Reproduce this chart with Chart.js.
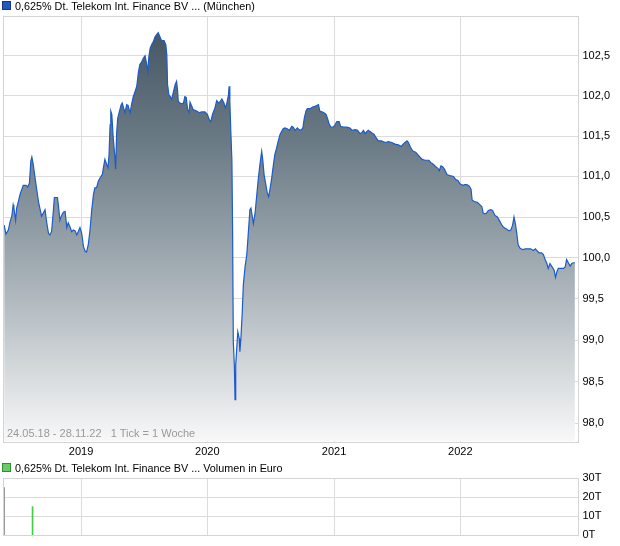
<!DOCTYPE html>
<html>
<head>
<meta charset="utf-8">
<script src="https://cdn.jsdelivr.net/npm/chart.js@4.4.0/dist/chart.umd.min.js"></script>
<style>
  body { margin: 0; background: #fff; font-family: "Liberation Sans", Arial, sans-serif; }
  #wrap { position: relative; width: 620px; height: 546px; overflow: hidden; }
  canvas { position: absolute; left: 0; }
  .legend { position: absolute; left: 2px; font-size: 10.8px; color: #000; line-height: 13px; white-space: nowrap; }
  .legend span.box { display: inline-block; width: 7px; height: 7px; margin-right: 4px; }
  .info { position: absolute; left: 7px; top: 427px; font-size: 11px; color: #9a9a9a; white-space: pre; }
</style>
</head>
<body>
<div id="wrap">
  <canvas id="priceChart" width="620" height="462" style="top:0"></canvas>
  <canvas id="volChart" width="620" height="86" style="top:460px"></canvas>
  <div class="legend" style="top:0px"><span class="box" style="background:#2257c4;border:1px solid #133a86"></span>0,625% Dt. Telekom Int. Finance BV ... (München)</div>
  <div class="legend" style="top:462px"><span class="box" style="background:#66cc66;border:1px solid #2f8f2f"></span>0,625% Dt. Telekom Int. Finance BV ... Volumen in Euro</div>
  <div class="info">24.05.18 - 28.11.22   1 Tick = 1 Woche</div>
</div>
<script>
// days since 24.05.18
const days = [
  0,5,12,17,22,26,28,33,36,41,
  46,51,55,63,68,73,77,80,84,88,
  92,99,104,108,113,118,123,128,132,137,
  142,145,154,158,161,166,171,176,181,185,
  190,195,200,205,210,214,219,224,229,234,
  238,243,248,253,258,262,267,272,277,284,
  286,291,296,300,303,306,308,311,315,320,
  322,325,328,332,338,341,345,349,354,358,
  361,364,368,373,378,383,388,392,397,402,
  407,412,415,418,422,426,431,436,441,445,
  450,455,462,467,470,472,476,480,484,489,
  494,498,501,503,508,513,518,522,526,530,
  534,537,542,546,556,564,571,580,587,593,
  597,602,609,614,620,626,629,635,639,643,
  648,650,652,655,658,660,662,665,667,669,
  675,679,681,684,688,691,696,701,705,710,
  713,720,725,730,734,739,744,747,751,756,
  760,764,768,773,778,782,787,792,797,802,
  806,811,818,824,831,835,841,847,852,857,
  863,867,872,876,884,891,898,903,908,912,
  918,924,930,934,939,944,951,956,961,968,
  972,980,990,999,1006,1014,1021,1028,1033,1038,
  1043,1047,1052,1062,1069,1076,1081,1089,1095,1102,
  1110,1120,1129,1139,1147,1153,1158,1164,1168,1173,
  1178,1182,1189,1195,1201,1208,1216,1227,1233,1240,
  1247,1253,1257,1262,1267,1272,1280,1288,1298,1305,
  1311,1317,1325,1331,1337,1344,1349,1352,1358,1367,
  1375,1380,1384,1389,1394,1399,1406,1411,1418,1425,
  1433,1438,1444,1452,1459,1464,1469,1473,1477,1481,
  1485,1490,1498,1506,1514,1521,1529,1535,1541,1546,
  1553,1558,1563,1568,1572,1577,1583,1589,1593,1597,
  1601,1608,1616,1621,1625,1630,1635,1640,1645,1649
];

const prices = [
  100.40,100.29,100.34,100.44,100.51,100.65,100.61,100.46,100.61,100.69,
  100.78,100.84,100.89,100.89,100.87,100.92,101.19,101.24,101.15,101.02,
  100.90,100.69,100.59,100.51,100.55,100.59,100.43,100.30,100.28,100.32,
  100.57,100.74,100.74,100.59,100.46,100.52,100.56,100.57,100.37,100.43,
  100.38,100.32,100.34,100.33,100.28,100.32,100.37,100.30,100.14,100.08,
  100.07,100.16,100.34,100.59,100.78,100.86,100.86,100.94,100.98,101.03,
  101.09,101.21,101.15,101.11,101.27,101.64,101.81,101.77,101.48,101.23,
  101.09,101.54,101.72,101.79,101.89,101.91,101.85,101.79,101.89,101.88,
  101.83,101.79,101.89,101.99,102.05,102.12,102.30,102.39,102.42,102.47,
  102.50,102.39,102.30,102.49,102.60,102.64,102.68,102.74,102.77,102.79,
  102.74,102.69,102.69,102.64,102.51,102.14,102.01,101.99,101.96,102.05,
  102.14,102.18,102.07,101.93,101.91,101.90,101.91,101.99,101.98,101.83,
  101.79,101.92,101.87,101.83,101.81,101.79,101.80,101.80,101.77,101.70,
  101.68,101.77,101.85,101.94,101.91,101.94,101.96,101.91,101.85,101.90,
  102.01,102.12,101.93,101.54,101.19,100.32,98.98,98.70,98.28,98.70,
  99.10,99.02,98.86,99.02,99.35,99.67,99.89,100.04,100.28,100.59,
  100.61,100.42,100.55,100.78,100.96,101.15,101.31,101.21,101.02,100.90,
  100.80,100.75,100.84,100.98,101.15,101.27,101.35,101.44,101.52,101.56,
  101.59,101.60,101.59,101.57,101.62,101.61,101.57,101.60,101.58,101.57,
  101.60,101.72,101.81,101.84,101.84,101.86,101.87,101.88,101.89,101.81,
  101.80,101.79,101.77,101.72,101.65,101.61,101.61,101.64,101.68,101.68,
  101.62,101.61,101.61,101.60,101.57,101.58,101.57,101.53,101.54,101.57,
  101.53,101.55,101.57,101.54,101.52,101.47,101.44,101.44,101.43,101.42,
  101.43,101.42,101.40,101.39,101.37,101.40,101.42,101.44,101.42,101.37,
  101.33,101.31,101.30,101.27,101.24,101.21,101.20,101.20,101.17,101.15,
  101.12,101.10,101.07,101.13,101.12,101.09,101.02,101.01,101.00,100.96,
  100.95,100.91,100.89,100.90,100.90,100.88,100.84,100.71,100.69,100.68,
  100.65,100.63,100.55,100.54,100.55,100.58,100.59,100.58,100.52,100.50,
  100.44,100.40,100.37,100.35,100.33,100.34,100.40,100.50,100.42,100.30,
  100.16,100.12,100.10,100.11,100.11,100.11,100.09,100.11,100.08,100.06,
  100.06,100.04,99.98,99.93,99.87,99.93,99.89,99.85,99.76,99.83,
  99.87,99.87,99.87,99.89,99.98,99.94,99.90,99.93,99.94,99.94
];

// year starts as days since 24.05.18
const yearDays = [222, 587, 953, 1318];
const yearLabels = ["2019", "2020", "2021", "2022"];
const priceTicks = [98.0, 98.5, 99.0, 99.5, 100.0, 100.5, 101.0, 101.5, 102.0, 102.5];

// volume (thousand euro)
const volDays = [0, 82];
const volValues = [25, 15];
const volColors = ["#9a9a9a", "#44cc44"];
const volTicks = [0, 10, 20, 30];

const DAY_MIN = -3.4;
const DAY_MAX = 1659.4;
const GRID = "#dcdcdc";

const frame = {
  id: "frame",
  afterDraw(chart) {
    const { ctx, chartArea: a } = chart;
    ctx.save();
    ctx.strokeStyle = "#d4d4d4";
    ctx.lineWidth = 1;
    ctx.strokeRect(Math.round(a.left) + 0.5, Math.round(a.top) + 0.5, Math.round(a.right - a.left) - 1, Math.round(a.bottom - a.top));
    ctx.restore();
  },
};

Chart.defaults.font.family = "'Liberation Sans', Arial, sans-serif";
Chart.defaults.font.size = 11;
Chart.defaults.color = "#000";
Chart.defaults.animation = false;

const yearAxis = (showLabels) => ({
  type: "linear",
  min: DAY_MIN,
  max: DAY_MAX,
  offset: false,
  afterBuildTicks: (s) => { s.ticks = yearDays.map((v) => ({ value: v })); },
  ticks: {
    display: showLabels,
    autoSkip: false,
    maxRotation: 0,
    padding: 4,
    callback: (v, i) => yearLabels[i],
  },
  grid: { color: GRID, drawTicks: false, offset: false },
  border: { display: false },
  afterFit: (s) => { s.height = showLabels ? 20.5 : 0; },
});

new Chart(document.getElementById("priceChart"), {
  type: "line",
  data: {
    datasets: [
      {
        data: days.map((d, i) => ({ x: d, y: prices[i] })),
        borderColor: "#1d5bc8",
        borderWidth: 1.2,
        pointRadius: 0,
        tension: 0,
        fill: "start",
        backgroundColor: (c) => {
          const a = c.chart.chartArea;
          if (!a) return "#999";
          const g = c.chart.ctx.createLinearGradient(0, a.top, 0, a.bottom);
          g.addColorStop(0, "#415360");
          g.addColorStop(0.3, "#6b7b86");
          g.addColorStop(0.6, "#a3adb4");
          g.addColorStop(1, "#f8f8f8");
          return g;
        },
      },
    ],
  },
  options: {
    responsive: false,
    layout: { padding: { top: 16, left: 3, right: 0, bottom: 0 } },
    plugins: { legend: { display: false }, tooltip: { enabled: false } },
    scales: {
      x: yearAxis(true),
      y: {
        type: "logarithmic",
        position: "right",
        min: 97.78,
        max: 103.0,
        afterBuildTicks: (s) => { s.ticks = priceTicks.map((v) => ({ value: v })); },
        ticks: {
          padding: 4,
          callback: (v) => Number(v).toFixed(1).replace(".", ","),
        },
        grid: { color: GRID, drawTicks: false },
        border: { display: false },
        afterFit: (s) => { s.width = 41.5; },
      },
    },
  },
  plugins: [frame],
});

new Chart(document.getElementById("volChart"), {
  type: "bar",
  data: {
    datasets: [
      {
        data: volDays.map((d, i) => ({ x: d, y: volValues[i] })),
        backgroundColor: volColors,
        barThickness: 1,
      },
    ],
  },
  options: {
    responsive: false,
    layout: { padding: { top: 18, left: 3, right: 0, bottom: 10 } },
    plugins: { legend: { display: false }, tooltip: { enabled: false } },
    scales: {
      x: yearAxis(false),
      y: {
        position: "right",
        min: 0,
        max: 30,
        afterBuildTicks: (s) => { s.ticks = volTicks.map((v) => ({ value: v })); },
        ticks: { padding: 4, callback: (v) => v + "T" },
        grid: { color: GRID, drawTicks: false },
        border: { display: false },
        afterFit: (s) => { s.width = 41.5; },
      },
    },
  },
  plugins: [frame],
});
</script>
</body>
</html>
